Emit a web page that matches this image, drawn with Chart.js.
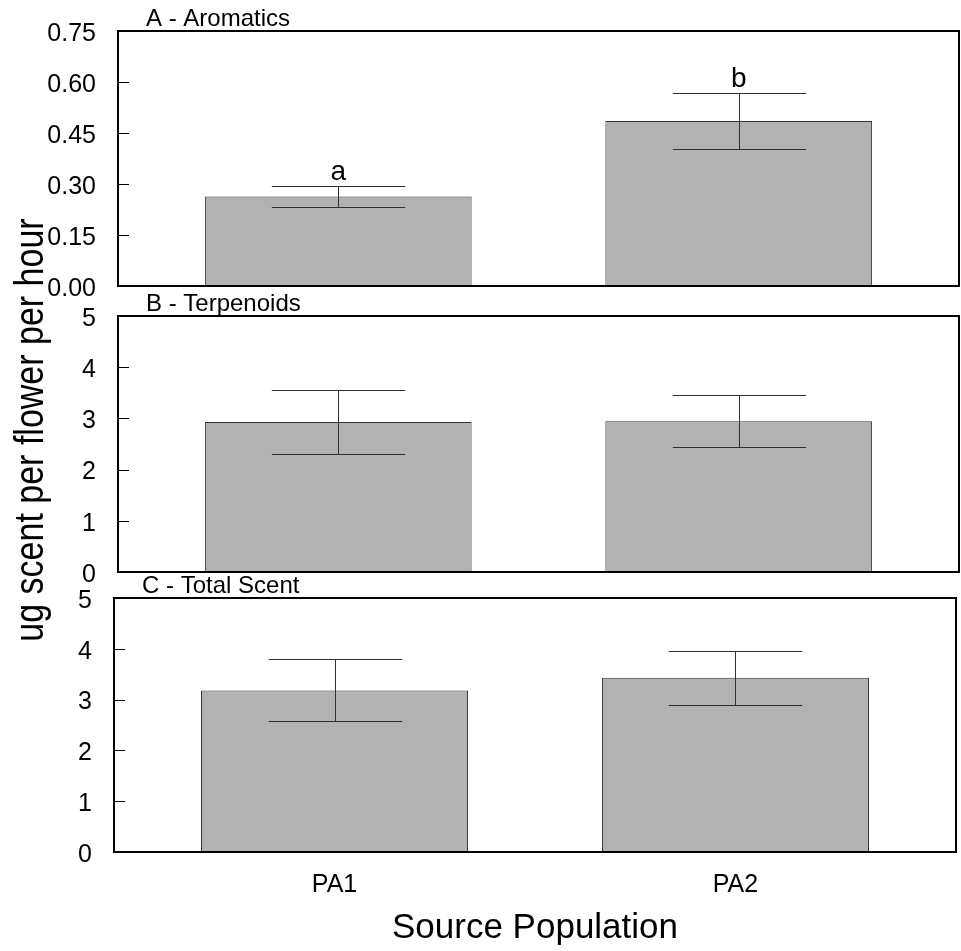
<!DOCTYPE html>
<html>
<head>
<meta charset="utf-8">
<script src="https://cdn.jsdelivr.net/npm/chart.js@4.4.1/dist/chart.umd.min.js"></script>
<style>
    body { margin: 0; background: #fff; }
    #wrap { position: relative; width: 961px; height: 951px; font-family: 'Liberation Sans', Arial, sans-serif; }
    #wrap canvas { position: absolute; left: 0; top: 0; }
    #ytitle {
        position: absolute; left: -221px; top: 410px; width: 500px; height: 40px;
        line-height: 40px; text-align: center; font-size: 34px; color: #000;
        transform: rotate(-90deg) scaleY(1.2);
    }
</style>
</head>
<body>
<div id="wrap">
    <canvas id="chartA" width="961" height="951"></canvas>
    <canvas id="chartB" width="961" height="951"></canvas>
    <canvas id="chartC" width="961" height="951"></canvas>
    <div id="ytitle">ug scent per flower per hour</div>
</div>
<script>
const populations = ['PA1', 'PA2'];

const aromaticsMean = [0.263, 0.485];
const aromaticsSE = [0.032, 0.083];
const aromaticsLetters = ['a', 'b'];
const aromaticsTicks = [0, 0.15, 0.30, 0.45, 0.60, 0.75];

const terpenoidsMean = [2.93, 2.945];
const terpenoidsSE = [0.62, 0.505];

const totalMean = [3.18, 3.43];
const totalSE = [0.61, 0.53];

const scentTicks = [0, 1, 2, 3, 4, 5];

const FONT = "'Liberation Sans', Arial, sans-serif";
Chart.defaults.font.family = FONT;
Chart.defaults.color = '#000';

// frame, inward ticks, panel label, error bars
const panelDecor = {
    id: 'panelDecor',
    afterDatasetsDraw (chart, args, opts) {
        const ctx = chart.ctx;
        const yScale = chart.scales.y;
        const meta = chart.getDatasetMeta(0);
        const data = chart.data.datasets[0].data;
        ctx.save();
        ctx.strokeStyle = '#303030';
        ctx.lineWidth = 1;
        ctx.fillStyle = '#000';
        ctx.font = '28px ' + FONT;
        ctx.textAlign = 'center';
        ctx.textBaseline = 'alphabetic';
        meta.data.forEach((bar, i) => {
            const v = data[i].y;
            const e = opts.errors[i];
            const x = Math.round(bar.x) + 0.5;
            const yTop = Math.round(yScale.getPixelForValue(v + e)) + 0.5;
            const yBot = Math.round(yScale.getPixelForValue(v - e)) + 0.5;
            const half = bar.width / 4;
            ctx.beginPath();
            ctx.moveTo(x, yTop); ctx.lineTo(x, yBot);
            ctx.moveTo(x - half, yTop); ctx.lineTo(x + half, yTop);
            ctx.moveTo(x - half, yBot); ctx.lineTo(x + half, yBot);
            ctx.stroke();
            if (opts.letters) {
                ctx.fillText(opts.letters[i], bar.x, yTop - 7);
            }
        });
        ctx.restore();
    },
    afterDraw (chart, args, opts) {
        const ctx = chart.ctx;
        const a = chart.chartArea;
        const yScale = chart.scales.y;
        ctx.save();
        ctx.strokeStyle = '#000';
        ctx.lineWidth = 1;
        yScale.ticks.forEach((t, i) => {
            const y = Math.round(yScale.getPixelForTick(i)) + 0.5;
            ctx.beginPath();
            ctx.moveTo(a.left, y);
            ctx.lineTo(a.left + 11, y);
            ctx.stroke();
        });
        ctx.lineWidth = 2;
        ctx.strokeRect(a.left, a.top, a.right - a.left, a.bottom - a.top);
        ctx.fillStyle = '#000';
        ctx.font = '24px ' + FONT;
        ctx.textAlign = 'left';
        ctx.textBaseline = 'alphabetic';
        ctx.fillText(opts.title, a.left + 28, a.top - 5);
        ctx.restore();
    }
};

function makePanel (id, means, errors, tickValues, cfg) {
    const ctx = document.getElementById(id).getContext('2d');
    return new Chart(ctx, {
        type: 'bar',
        data: {
            datasets: [{
                data: means.map((m, i) => ({ x: i, y: m })),
                backgroundColor: '#b2b2b2',
                borderColor: '#333',
                borderWidth: 1,
                categoryPercentage: 1,
                barPercentage: 0.666
            }]
        },
        options: {
            responsive: false,
            animation: false,
            layout: { padding: cfg.padding },
            plugins: {
                legend: { display: false },
                tooltip: { enabled: false },
                panelDecor: { title: cfg.title, errors: errors, letters: cfg.letters }
            },
            scales: {
                x: {
                    type: 'linear',
                    offset: false,
                    min: -0.55,
                    max: 1.55,
                    grid: { display: false, offset: false },
                    border: { display: false },
                    afterBuildTicks: scale => {
                        scale.ticks = populations.map((p, i) => ({ value: i }));
                    },
                    afterFit: scale => { scale.height = cfg.xHeight; },
                    ticks: {
                        display: cfg.showX,
                        padding: 10,
                        font: { size: 25 },
                        callback: v => populations[v]
                    },
                    title: {
                        display: cfg.showX,
                        text: 'Source Population',
                        font: { size: 35 },
                        padding: { top: 0, bottom: 2 }
                    }
                },
                y: {
                    min: tickValues[0],
                    max: tickValues[tickValues.length - 1],
                    grid: { display: false },
                    border: { display: false },
                    afterBuildTicks: scale => {
                        scale.ticks = tickValues.map(v => ({ value: v }));
                    },
                    afterFit: scale => { scale.width = cfg.yWidth; },
                    ticks: {
                        padding: 14,
                        labelOffset: 3,
                        font: { size: 25 },
                        callback: v => v.toFixed(cfg.decimals)
                    }
                }
            }
        },
        plugins: [panelDecor]
    });
}

makePanel('chartA', aromaticsMean, aromaticsSE, aromaticsTicks, {
    title: 'A - Aromatics', letters: aromaticsLetters, decimals: 2,
    padding: { top: 31, bottom: 665, left: 0, right: 2 },
    yWidth: 118, xHeight: 0, showX: false
});

makePanel('chartB', terpenoidsMean, terpenoidsSE, scentTicks, {
    title: 'B - Terpenoids', letters: null, decimals: 0,
    padding: { top: 316, bottom: 379, left: 0, right: 2 },
    yWidth: 118, xHeight: 0, showX: false
});

makePanel('chartC', totalMean, totalSE, scentTicks, {
    title: 'C - Total Scent', letters: null, decimals: 0,
    padding: { top: 598, bottom: 0, left: 0, right: 5 },
    yWidth: 114, xHeight: 99, showX: true
});
</script>
</body>
</html>
